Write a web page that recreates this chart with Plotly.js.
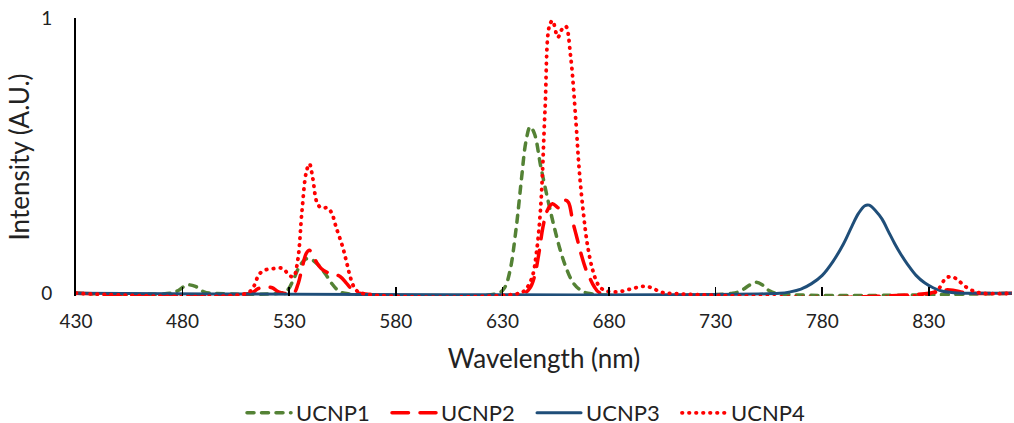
<!DOCTYPE html>
<html>
<head>
<meta charset="utf-8">
<script src="https://cdn.plot.ly/plotly-3.0.1.min.js"></script>
<style>
html,body{margin:0;padding:0;background:#fff;}
#chart{width:1014px;height:423px;}
.js-line, .legendlines path {stroke-linecap: round !important;}
</style>
</head>
<body>
<div id="chart"></div>
<script>
// Wavelength (nm) and intensity (A.U.)
const ucnp1X = [430,474,478,482,486,490,494,525,529,532,535,538,541,544,547,550,553,556,628,631,633.5,636.5,639,641,643,645,648,651,654,657,660,663,666,670,738,742,746,749,752,755,758,870];
const ucnp1Y = [0,0,0.01,0.03,0.025,0.005,0,0,0.01,0.05,0.1,0.125,0.12,0.1,0.07,0.035,0.01,0,0,0.02,0.08,0.24,0.42,0.55,0.605,0.58,0.46,0.35,0.25,0.16,0.09,0.04,0.015,0,0,0.01,0.03,0.04,0.03,0.01,0,0];

const ucnp2X = [430,512,515,518,522,525,532,534,536,538,539.5,541,543,545,548,551,554,557,560,563,640,643,645,647,649,651,653.5,656.5,659.5,661,663,665,667,669,671,673,676,830,835,840,845,850,870];
const ucnp2Y = [0,0,0.015,0.023,0.02,0.005,0,0.03,0.09,0.145,0.156,0.14,0.11,0.09,0.075,0.07,0.06,0.035,0.01,0,0,0.02,0.06,0.14,0.24,0.3,0.325,0.31,0.338,0.33,0.26,0.2,0.14,0.09,0.055,0.025,0,0,0.01,0.012,0.005,0,0];

const ucnp3X = [430,760,765,770,775,780,785,790,794,797,800,802,805,808,811,814,817,820,824,828,832,836,842,850,870];
const ucnp3Y = [0,0,0.005,0.015,0.035,0.065,0.115,0.18,0.245,0.29,0.318,0.32,0.3,0.27,0.225,0.18,0.14,0.105,0.065,0.038,0.02,0.008,0.002,0,0];

const ucnp4X = [430,510,513,516,519,523,527,530,532,534,536,538,539.5,541,543,545,548,550,552,555,557,559,561,564,638,641,644,646,648,650,652,653.5,656,658,659.7,662,664.5,666,668,670,672.5,675,678,684,690,696,700,704,708,832,835,838,841,844,847,851,855,870];
const ucnp4Y = [0,0,0.02,0.07,0.085,0.09,0.09,0.065,0.06,0.12,0.3,0.44,0.47,0.42,0.33,0.31,0.31,0.29,0.24,0.17,0.11,0.05,0.015,0,0,0.015,0.06,0.15,0.32,0.67,0.97,0.99,0.93,0.96,0.97,0.86,0.62,0.45,0.29,0.17,0.08,0.03,0.01,0.005,0.015,0.025,0.02,0.005,0,0,0.02,0.055,0.06,0.045,0.025,0.008,0,0];

const seriesNames = ['UCNP1','UCNP2','UCNP3','UCNP4'];
const xTickVals = [430,480,530,580,630,680,730,780,830];
const yTickVals = [0,1];

const FONT = 'Lato, "Open Sans", sans-serif';
const traces = [
  {x: ucnp1X, y: ucnp1Y, name: seriesNames[0], line: {color: '#548235', width: 3.5, dash: '7px,7.5px', shape: 'spline'}},
  {x: ucnp2X, y: ucnp2Y, name: seriesNames[1], line: {color: '#FF0000', width: 3.5, dash: '16.5px,11.5px', shape: 'spline'}},
  {x: ucnp3X, y: ucnp3Y, name: seriesNames[2], line: {color: '#1F4E79', width: 3, shape: 'spline'}},
  {x: ucnp4X, y: ucnp4Y, name: seriesNames[3], line: {color: '#FF0000', width: 3.8, dash: '0.5px,6.5px', shape: 'spline'}}
].map(t => Object.assign({type: 'scatter', mode: 'lines', hoverinfo: 'skip'}, t));

const layout = {
  width: 1014, height: 423,
  margin: {l: 76, r: 2, t: 18, b: 127},
  paper_bgcolor: '#fff', plot_bgcolor: '#fff',
  font: {family: FONT, color: '#222', size: 19},
  showlegend: true,
  legend: {orientation: 'h', xref: 'container', x: 242/1014, xanchor: 'left', yref: 'container', y: 1 - 413/423, yanchor: 'middle',
           font: {size: 22, family: FONT, color: '#222'}, itemwidth: 44, entrywidth: 86, entrywidthmode: 'pixels', tracegroupgap: 0},
  xaxis: {
    range: [430, 869], tickvals: xTickVals, ticktext: xTickVals.map(String),
    showgrid: false, zeroline: false, showline: false,
    ticks: 'inside', ticklen: 9, tickcolor: '#000', tickwidth: 1.5,
    ticklabelstandoff: 12, tickfont: {size: 19},
    title: {text: 'Wavelength (nm)', font: {size: 26}, standoff: 18}
  },
  yaxis: {
    range: [-0.01, 1], tickvals: yTickVals, ticktext: yTickVals.map(String),
    showgrid: false, zeroline: false, showline: true, linecolor: '#000', linewidth: 2, layer: 'below traces',
    ticks: 'inside', ticklen: 6, tickcolor: '#000', tickwidth: 2,
    ticklabelstandoff: 18, tickfont: {size: 19},
    title: {text: 'Intensity (A.U.)', font: {size: 26}, standoff: 4}
  }
};

Plotly.newPlot('chart', traces, layout, {staticPlot: true, displayModeBar: false});
</script>
</body>
</html>
